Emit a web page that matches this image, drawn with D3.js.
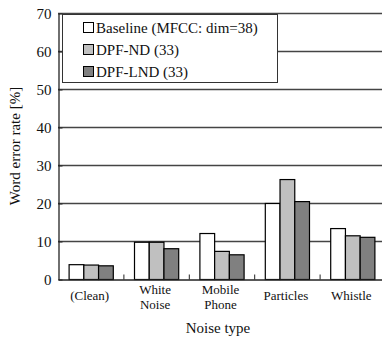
<!DOCTYPE html>
<html>
<head>
<meta charset="utf-8">
<script src="https://cdn.jsdelivr.net/npm/d3@7"></script>
<style>
  body { margin: 0; background: #fff; }
  svg text { font-family: "Liberation Serif", "DejaVu Serif", serif; }
</style>
</head>
<body>
<svg width="382" height="341"></svg>
<script>
// categories (two-line labels split by \n)
var categories = ["(Clean)", "White\nNoise", "Mobile\nPhone", "Particles", "Whistle"];
var seriesNames = ["Baseline (MFCC: dim=38)", "DPF-ND (33)", "DPF-LND (33)"];
var baseline = [3.9, 9.8, 12.1, 20.0, 13.4];
var dpfNd = [3.8, 9.8, 7.4, 26.3, 11.5];
var dpfLnd = [3.6, 8.1, 6.5, 20.5, 11.1];
var yTicks = [0, 10, 20, 30, 40, 50, 60, 70];

var series = [baseline, dpfNd, dpfLnd];
var colors = ["#ffffff", "#c0c0c0", "#808080"];
var serif = "Liberation Serif, DejaVu Serif, serif";

var svg = d3.select("svg");
var mLeft = 58, mRight = 385, mTop = 13, mBottom = 279;

var x = d3.scaleBand().domain(categories).range([mLeft, mRight]).paddingInner(0).paddingOuter(0);
var xs = d3.scaleBand().domain(d3.range(series.length)).range([0, x.bandwidth()]).paddingOuter(0.72).paddingInner(0);
var y = d3.scaleLinear().domain([0, 70]).range([mBottom, mTop]);

// gridlines
svg.append("g").selectAll("line").data(yTicks.filter(function(d) { return d > 0; }))
  .enter().append("line")
  .attr("x1", mLeft).attr("x2", 382)
  .attr("y1", function(d) { return y(d) + 0.5; }).attr("y2", function(d) { return y(d) + 0.5; })
  .attr("stroke", "#444").attr("stroke-width", 1.3);

// bars
var groups = svg.append("g").selectAll("g").data(series).enter().append("g");
groups.selectAll("rect").data(function(s, i) { return s.map(function(v, j) { return { v: v, i: i, c: categories[j] }; }); })
  .enter().append("rect")
  .attr("x", function(d) { return x(d.c) + xs(d.i) + 0.5; })
  .attr("y", function(d) { return y(d.v) + 0.5; })
  .attr("width", xs.bandwidth())
  .attr("height", function(d) { return y(0) - y(d.v); })
  .attr("fill", function(d) { return colors[d.i]; })
  .attr("stroke", "#000").attr("stroke-width", 1.2);

// y axis
var yAxis = d3.axisLeft(y).tickValues(yTicks).tickSizeInner(-4).tickSizeOuter(0).tickPadding(7);
var gy = svg.append("g").attr("transform", "translate(" + (mLeft + 0.5) + ",0.5)").call(yAxis);
gy.attr("font-family", serif);
gy.select(".domain").attr("stroke", "#222").attr("stroke-width", 1.3);
gy.selectAll(".tick line").attr("stroke", "#222");
gy.selectAll("text").attr("font-size", 15).attr("fill", "#111");

// x axis
var xAxis = d3.axisBottom(x).tickSize(0).tickFormat("");
var gx = svg.append("g").attr("transform", "translate(0," + (mBottom + 0.5) + ")").call(xAxis);
gx.select(".domain").attr("stroke", "#222").attr("stroke-width", 1.3);
// separators between categories
gx.selectAll(".sep").data(categories.slice(1)).enter().append("line")
  .attr("x1", function(d) { return x(d) + 0.5; }).attr("x2", function(d) { return x(d) + 0.5; })
  .attr("y1", 0).attr("y2", -5).attr("stroke", "#222");

// category labels
var labels = svg.append("g").selectAll("text").data(categories).enter().append("text")
  .attr("text-anchor", "middle").attr("font-size", 13).attr("fill", "#111")
  .attr("font-family", serif)
  .attr("transform", function(d) { return "translate(" + (x(d) + x.bandwidth() / 2 - 1) + ",0)"; });
labels.each(function(d) {
  var lines = d.split("\n");
  var t = d3.select(this);
  lines.forEach(function(l, k) {
    var yy = lines.length === 1 ? 300 : 294 + k * 15;
    t.append("tspan").attr("x", 0).attr("y", yy).text(l);
  });
});

// axis titles
svg.append("text").attr("x", 218).attr("y", 333).attr("text-anchor", "middle")
  .attr("font-family", serif).attr("font-size", 15).attr("fill", "#111").text("Noise type");
svg.append("text").attr("transform", "translate(20,146) rotate(-90)").attr("text-anchor", "middle")
  .attr("font-family", serif).attr("font-size", 15).attr("fill", "#111").text("Word error rate [%]");

// legend
var lg = svg.append("g");
lg.append("rect").attr("x", 62.5).attr("y", 14.5).attr("width", 215).attr("height", 68)
  .attr("fill", "#fff").attr("stroke", "#333").attr("stroke-width", 1);
var items = lg.selectAll("g").data(seriesNames).enter().append("g")
  .attr("transform", function(d, i) { return "translate(0," + [28, 50, 72][i] + ")"; });
items.append("rect").attr("x", 83.5).attr("y", -5.5).attr("width", 10).attr("height", 10)
  .attr("fill", function(d, i) { return colors[i]; }).attr("stroke", "#000");
items.append("text").attr("x", 96).attr("y", 5).attr("font-family", serif).attr("font-size", 15).attr("fill", "#111")
  .text(function(d) { return d; });
</script>
</body>
</html>
